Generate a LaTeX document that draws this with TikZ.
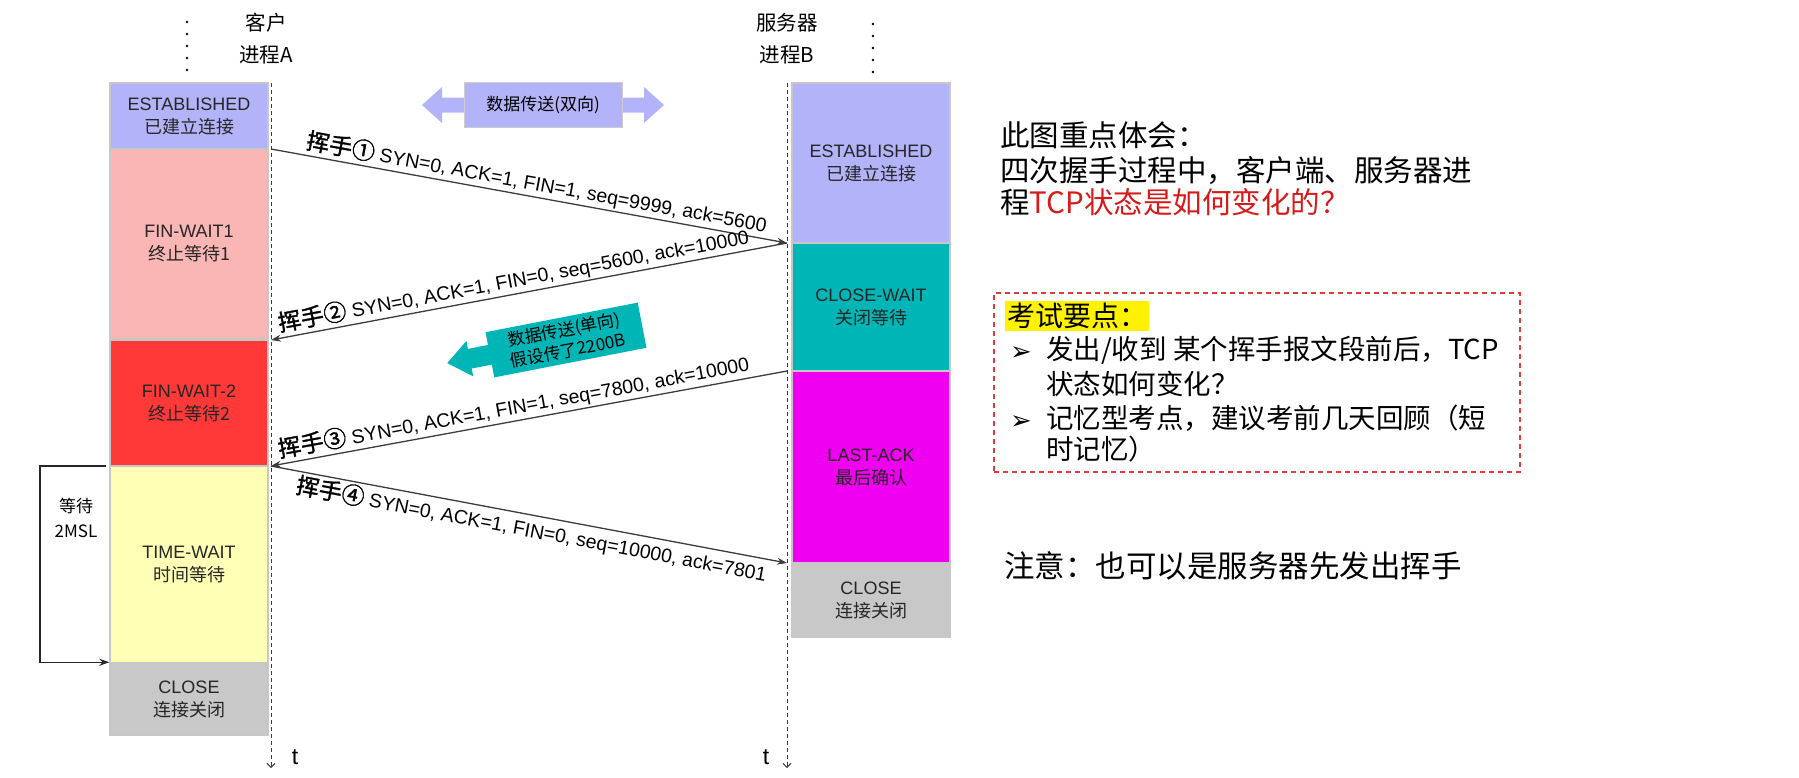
\documentclass[tikz,border=0pt]{standalone}
\usepackage{fontspec}
\setmainfont{Liberation Sans}
\newfontfamily\cjk{Noto Sans CJK SC}
\newfontfamily\cjkb[FakeBold=1.5]{Noto Sans CJK SC}
\newfontfamily\dingfont{DejaVu Sans}
\usetikzlibrary{arrows.meta}
\definecolor{estcol}{RGB}{179,179,250}
\definecolor{fwonecol}{RGB}{250,181,181}
\definecolor{fwtwocol}{RGB}{255,56,56}
\definecolor{twcol}{RGB}{255,255,181}
\definecolor{closecol}{RGB}{200,200,200}
\definecolor{cwcol}{RGB}{0,181,181}
\definecolor{lacol}{RGB}{240,0,240}
\definecolor{notered}{RGB}{215,25,25}
\definecolor{linecol}{RGB}{60,60,60}
\newcommand{\handwave}[1]{{\cjkb\fontsize{23}{23}\selectfont 挥手#1}}

\begin{document}
\begin{tikzpicture}[
        x=1pt, y=-1pt,
        >={Stealth[length=10pt,width=7pt]},
        state/.style={draw=black!22, line width=1.5pt, minimum width=158pt, inner sep=0pt, align=center, text=black!85, font=\fontsize{18}{23}\selectfont},
        timeline/.style={-{Straight Barb[length=4pt,width=8pt]}, dash pattern=on 4pt off 3pt, line width=1pt, draw=linecol},
        dots/.style={line width=2.6pt, line cap=round, dash pattern=on 0pt off 12pt},
        msg/.style={->, line width=1.3pt, draw=linecol},
        msglabel/.style={sloped, inner sep=2pt, font=\fontsize{19.5}{22}\selectfont},
        head/.style={align=center, font=\cjk\fontsize{20.5}{32}\selectfont},
        note/.style={anchor=base west, inner sep=0pt, font=\cjk\fontsize{29.5}{34}\selectfont},
        item/.style={anchor=base west, inner sep=0pt, font=\cjk\fontsize{27.5}{33}\selectfont},
        bullet/.style={anchor=base west, inner sep=0pt, font=\dingfont\fontsize{26}{26}\selectfont}
    ]
        \useasboundingbox (0,0) rectangle (1799,777);

        % client A
        \node[state, fill=estcol, minimum height=66pt]    (estA) at (189,116) {ESTABLISHED\\{\cjk 已建立连接}};
        \node[state, fill=fwonecol, minimum height=190pt] (fwone) at (189,244) {FIN-WAIT1\\{\cjk 终止等待1}};
        \node[state, fill=fwtwocol, minimum height=126pt] (fwtwo) at (189,403) {FIN-WAIT-2\\{\cjk 终止等待2}};
        \node[state, fill=twcol, minimum height=197pt]    (tw) at (189,564.5) {TIME-WAIT\\{\cjk 时间等待}};
        \node[state, fill=closecol, minimum height=72pt]  (clA) at (189,699) {CLOSE\\{\cjk 连接关闭}};

        % server B
        \node[state, fill=estcol, minimum height=160pt]   (estB) at (871,163) {ESTABLISHED\\{\cjk 已建立连接}};
        \node[state, fill=cwcol, minimum height=128pt]    (cw) at (871,307) {CLOSE-WAIT\\{\cjk 关闭等待}};
        \node[state, fill=lacol, minimum height=192pt]    (la) at (871,467) {LAST-ACK\\{\cjk 最后确认}};
        \node[state, fill=closecol, minimum height=74pt]  (clB) at (871,600) {CLOSE\\{\cjk 连接关闭}};

        \node[head] (headA) at (266,39) {客户\\进程A};
        \node[head] (headB) at (787,39) {服务器\\进程B};

        \coordinate (dotA1) at (187,22);
        \coordinate (dotA2) at (187,70);
        \coordinate (dotB1) at (873,24);
        \coordinate (dotB2) at (873,72);
        \draw[dots] (dotA1) -- (dotA2);
        \draw[dots] (dotB1) -- (dotB2);

        \coordinate (topA) at (271,83);
        \coordinate (endA) at (271,768);
        \coordinate (topB) at (787,83);
        \coordinate (endB) at (787,768);
        \draw[timeline] (topA) -- (endA);
        \draw[timeline] (topB) -- (endB);
        \node[font=\fontsize{23}{23}\selectfont] (tA) at (295,757) {t};
        \node[font=\fontsize{23}{23}\selectfont] (tB) at (766,757) {t};

        \coordinate (A1) at (271,149);
        \coordinate (B1) at (787,243);
        \coordinate (A2) at (271,340);
        \coordinate (B3) at (787,371);
        \coordinate (A3) at (271,466);
        \coordinate (B4) at (787,563);
        \draw[msg] (A1) -- node[msglabel, above, pos=0.51] {\handwave{①} SYN=0, ACK=1, FIN=1, seq=9999, ack=5600} (B1);
        \draw[msg] (B1) -- node[msglabel, above, pos=0.525] {\handwave{②} SYN=0, ACK=1, FIN=0, seq=5600, ack=10000} (A2);
        \draw[msg] (B3) -- node[msglabel, above, pos=0.525] {\handwave{③} SYN=0, ACK=1, FIN=1, seq=7800, ack=10000} (A3);
        \draw[msg] (A3) -- node[msglabel, below, pos=0.51] {\handwave{④} SYN=0, ACK=1, FIN=0, seq=10000, ack=7801} (B4);

        \coordinate (mslA) at (106,466);
        \draw[->, line width=1.3pt, draw=black!85] (mslA) -- ++(-66,0) |- (clA.north west);
        \node[align=center, font=\cjk\fontsize{17}{25}\selectfont] (wait) at (76,518) {等待\\2MSL};

        \begin{scope}[shift={(543,105)}]
            \fill[estcol] (-121,0) -- (-101,-18) -- (-101,-7.5) -- (101,-7.5) -- (101,-18) -- (121,0) -- (101,18) -- (101,7.5) -- (-101,7.5) -- (-101,18) -- cycle;
        \end{scope}
        \node[fill=estcol, draw=black!20, line width=1pt, minimum width=158pt, minimum height=45pt, font=\cjk\fontsize{17}{20}\selectfont] (bidir) at (543,105) {数据传送(双向)};

        \begin{scope}[shift={(566,340)}, rotate=11]
            \fill[cwcol] (-70,-10) -- (-98,-10) -- (-98,-18) -- (-121,0) -- (-98,18) -- (-98,10) -- (-70,10) -- cycle;
        \end{scope}
        \node[fill=cwcol, rotate=11, minimum width=155pt, minimum height=46pt, align=center, font=\cjk\fontsize{17}{21}\selectfont] (unidir) at (566,340) {数据传送(单向)\\假设传了2200B};

        % notes
        \node[note] (noteA) at (1000,146) {此图重点体会：};
        \node[note] (noteB) at (1000,181) {四次握手过程中，客户端、服务器进};
        \node[note] (noteC) at (1000,213) {程\textcolor{notered}{TCP状态是如何变化的？}};

        \node[draw=notered!85, dash pattern=on 5pt off 4pt, line width=1.2pt, minimum width=526pt, minimum height=179pt] (exam) at (1257,382.5) {};
        \node[fill=yellow, anchor=west, inner sep=2pt, font=\cjk\fontsize{28}{30}\selectfont] (examtitle) at (1005,316) {考试要点：};
        \node[bullet] (bulA) at (1010,360) {➢};
        \node[item] (itemA) at (1046,359) {发出/收到 某个挥手报文段前后，TCP};
        \node[item] (itemB) at (1046,394) {状态如何变化？};
        \node[bullet] (bulB) at (1010,429) {➢};
        \node[item] (itemC) at (1046,428) {记忆型考点，建议考前几天回顾（短};
        \node[item] (itemD) at (1046,459) {时记忆）};

        \node[note, font=\cjk\fontsize{30.5}{34}\selectfont] (noteD) at (1004,577) {注意：也可以是服务器先发出挥手};
    \end{tikzpicture}
\end{document}
